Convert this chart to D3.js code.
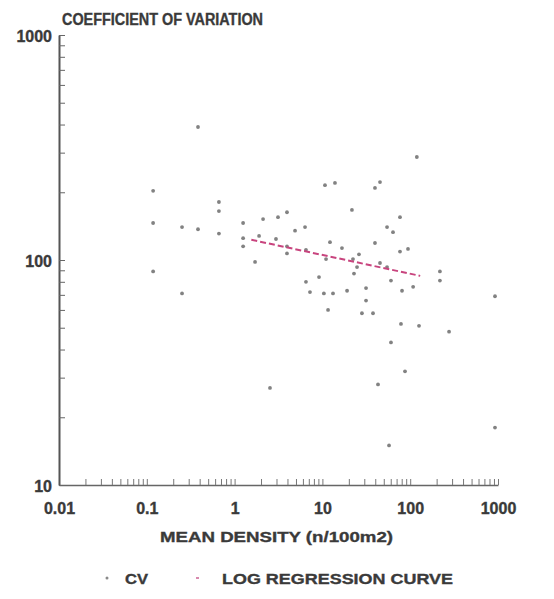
<!DOCTYPE html>
<html>
<head>
<meta charset="utf-8">
<script src="https://cdn.jsdelivr.net/npm/d3@7"></script>
<style>
  body { margin: 0; background: #fff; }
  text { font-family: "Liberation Sans", Arial, sans-serif; font-weight: bold; fill: #3a3a3a; stroke: #3a3a3a; stroke-width: 0.35px; }
</style>
</head>
<body>
<div id="chart-container"></div>
<script>
// mean density (n/100m2) for each sample
const density = [
  0.118, 0.118, 0.118, 0.252, 0.252, 0.383, 0.383, 0.663, 0.663, 0.663,
  1.25, 1.25, 1.25, 1.71, 1.9, 2.11, 3.12, 3.95, 3.95, 3.95,
  4.88, 6.34, 6.5, 6.5, 7.22, 9.15, 10.4, 13.2, 11.0, 12.2,
  11.6, 10.7, 13.9, 16.7, 19.1, 21.7, 22.3, 26.1, 24.8, 22.9,
  28.2, 37.7, 31.4, 31.4, 39.7, 45.3, 39.7, 54.5, 63.7, 76.5,
  76.5, 94.4, 60.4, 108, 80.7, 78.5, 126, 277, 60.4, 87.3,
  43.0, 2.53, 57.4, 924, 924, 119, 218, 218, 2.96, 45.3, 54.5
];
// coefficient of variation for each sample
const cv = [
  203, 146, 89, 140, 71, 390, 137, 181, 165, 131,
  146, 125, 115, 98, 128, 152, 155, 163, 115, 107,
  135, 140, 111, 80, 72, 84, 71, 71, 101, 120,
  60, 215, 220, 113, 73, 167, 101, 106, 93, 87,
  58, 58, 75, 66, 209, 222, 119, 140, 133, 155,
  109, 112, 81, 76, 73, 52, 51, 48, 43, 32,
  28, 27, 15, 69, 18, 287, 89, 81, 124, 97, 93
];
// log regression curve end points
const regX = [1.55, 130];
const regY = [123, 85];

const xTicks = [0.01, 0.1, 1, 10, 100, 1000];
const yTicks = [10, 100, 1000];

const width = 554, height = 599;

const svg = d3.select("#chart-container")
  .append("svg")
  .attr("width", width)
  .attr("height", height);

const x = d3.scaleLog().domain([0.01, 1000]).range([59, 498]);
const y = d3.scaleLog().domain([10, 1000]).range([485, 35]);

// tick values 1..9 for each decade
function logTicks(lo, hi) {
  const out = [];
  for (let d = lo; d < hi; d *= 10) {
    for (let k = 1; k < 10; k++) out.push(+(d * k).toPrecision(3));
  }
  out.push(hi);
  return out;
}

// X axis
const xAxis = svg.append("g")
  .attr("transform", "translate(0," + y(10) + ")")
  .call(d3.axisBottom(x)
    .tickValues(logTicks(0.01, 1000))
    .tickFormat((d) => (xTicks.includes(d) ? String(d) : ""))
    .tickSizeInner(-6)
    .tickSizeOuter(0)
    .tickPadding(18));
xAxis.select(".domain").attr("stroke", "#666").attr("stroke-width", 1.5);
xAxis.selectAll(".tick line").attr("stroke", "#777");
xAxis.selectAll("text").style("font-size", "16px").attr("fill", "#3a3a3a");

// Y axis
const yAxis = svg.append("g")
  .attr("transform", "translate(" + x(0.01) + ",0)")
  .call(d3.axisLeft(y)
    .tickValues(logTicks(10, 1000))
    .tickFormat((d) => (yTicks.includes(d) ? String(d) : ""))
    .tickSizeInner(-6)
    .tickSizeOuter(0)
    .tickPadding(7));
yAxis.select(".domain").attr("stroke", "#555").attr("stroke-width", 2);
yAxis.selectAll(".tick line").attr("stroke", "#666");
yAxis.selectAll("text").style("font-size", "16px").attr("dy", "0.42em").attr("fill", "#3a3a3a");

// titles
svg.append("text")
  .attr("x", 62)
  .attr("y", 25)
  .attr("textLength", 201)
  .attr("lengthAdjust", "spacingAndGlyphs")
  .style("font-size", "16px")
  .text("COEFFICIENT OF VARIATION");

svg.append("text")
  .attr("x", 160)
  .attr("y", 542)
  .attr("textLength", 233)
  .attr("lengthAdjust", "spacingAndGlyphs")
  .style("font-size", "15px")
  .text("MEAN DENSITY (n/100m2)");

// points
svg.append("g")
  .selectAll("circle")
  .data(density.map((d, i) => [d, cv[i]]))
  .enter()
  .append("circle")
  .attr("cx", (d) => x(d[0]))
  .attr("cy", (d) => y(d[1]))
  .attr("r", 1.9)
  .attr("fill", "#828282");

// regression curve
const line = d3.line().x((d) => x(d[0])).y((d) => y(d[1]));
svg.append("path")
  .datum(regX.map((d, i) => [d, regY[i]]))
  .attr("d", line)
  .attr("fill", "none")
  .attr("stroke", "#c8447e")
  .attr("stroke-width", 2)
  .attr("stroke-dasharray", "6,3");

// legend
svg.append("circle")
  .attr("cx", 107).attr("cy", 578).attr("r", 1.5)
  .attr("fill", "#8a8a8a");
svg.append("text")
  .attr("x", 125).attr("y", 584)
  .attr("textLength", 23)
  .attr("lengthAdjust", "spacingAndGlyphs")
  .style("font-size", "15px")
  .text("CV");
svg.append("line")
  .attr("x1", 196).attr("x2", 199).attr("y1", 578).attr("y2", 578)
  .attr("stroke", "#d88aae").attr("stroke-width", 2);
svg.append("text")
  .attr("x", 222).attr("y", 584)
  .attr("textLength", 231)
  .attr("lengthAdjust", "spacingAndGlyphs")
  .style("font-size", "15px")
  .text("LOG REGRESSION CURVE");
</script>
</body>
</html>
